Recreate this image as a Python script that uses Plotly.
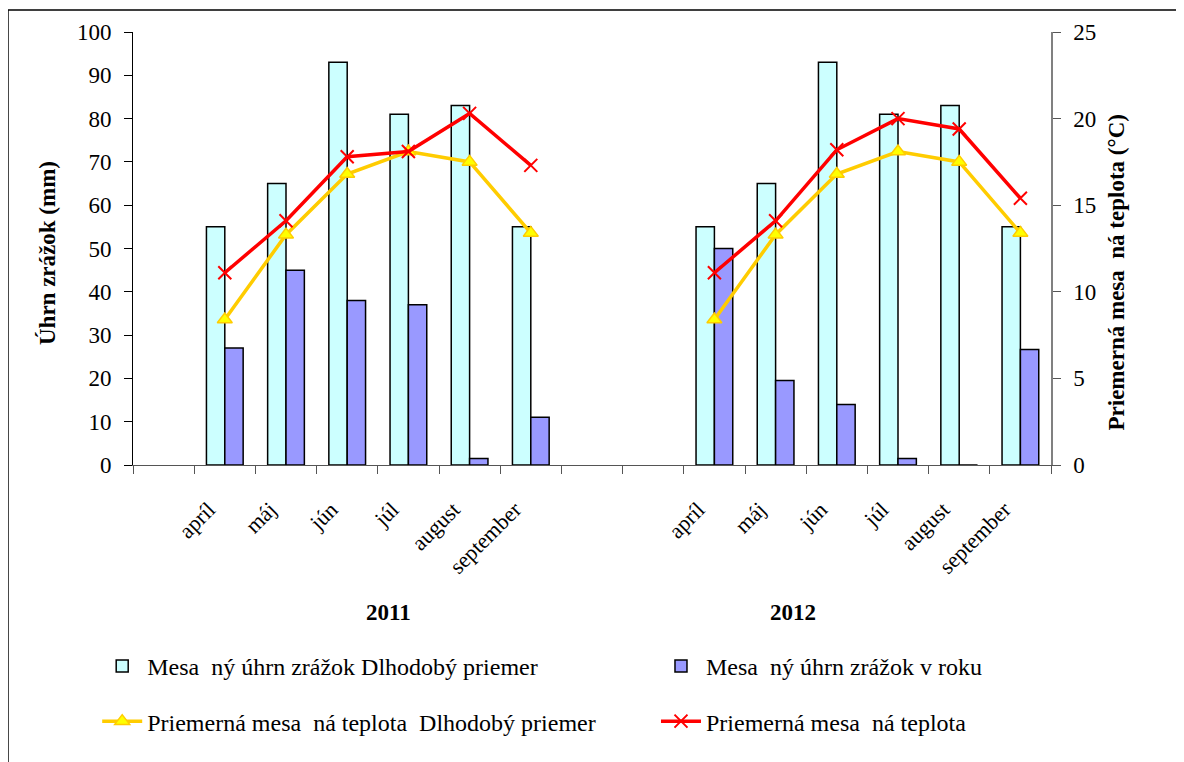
import plotly.graph_objects as go

# ---------------- data ----------------
months = ["apríl", "máj", "jún", "júl", "august", "september"]
years = ["2011", "2012"]

precip_longterm_2011 = [55, 65, 93, 81, 83, 55]
precip_longterm_2012 = [55, 65, 93, 81, 83, 55]
precip_year_2011 = [27, 45, 38, 37, 1.5, 11]
precip_year_2012 = [50, 19.5, 14, 1.5, 0, 26.7]

temp_longterm_2011 = [8.4, 13.3, 16.8, 18.1, 17.5, 13.4]
temp_longterm_2012 = [8.4, 13.3, 16.8, 18.1, 17.5, 13.4]
temp_year_2011 = [11.1, 14.1, 17.8, 18.1, 20.3, 17.3]
temp_year_2012 = [11.1, 14.1, 18.2, 20.0, 19.4, 15.4]

names = [
    "Mesa  ný úhrn zrážok Dlhodobý priemer",
    "Mesa  ný úhrn zrážok v roku",
    "Priemerná mesa  ná teplota  Dlhodobý priemer",
    "Priemerná mesa  ná teplota",
]
left_title = "Úhrn zrážok (mm)"
right_title = "Priemerná mesa  ná teplota (°C)"

# ---------------- category slots (with blank slots as in the original) ----------------
slots = ["_pad0"] + [f"2011 {m}" for m in months] + ["_pad1", "_pad2"] + [f"2012 {m}" for m in months]
slot_text = [""] + months + ["", ""] + months


def spread(a, b):
    return [None] + list(a) + [None, None] + list(b)


FONT = "Liberation Serif"
BLACK = "#000000"

fig = go.Figure()

fig.add_trace(go.Bar(
    x=slots, y=spread(precip_longterm_2011, precip_longterm_2012), name=names[0],
    marker=dict(color="#CCFFFF", line=dict(color=BLACK, width=1.5)),
    legend="legend", legendgroup="g0",
))
fig.add_trace(go.Bar(
    x=slots, y=spread(precip_year_2011, precip_year_2012), name=names[1],
    marker=dict(color="#9999FF", line=dict(color=BLACK, width=1.5)),
    legend="legend2", legendgroup="g1",
))
fig.add_trace(go.Scatter(
    x=slots, y=spread(temp_longterm_2011, temp_longterm_2012), name=names[2],
    yaxis="y2", mode="lines+markers", connectgaps=False,
    line=dict(color="#FFCC00", width=3.5),
    marker=dict(symbol="triangle-up", size=13, color="#FFFF00", line=dict(color="#FFCC00", width=1.5)),
    legend="legend", legendgroup="g2",
))
fig.add_trace(go.Scatter(
    x=slots, y=spread(temp_year_2011, temp_year_2012), name=names[3],
    yaxis="y2", mode="lines+markers", connectgaps=False,
    line=dict(color="#FF0000", width=3.5),
    marker=dict(symbol="x-thin", size=13, color="#FF0000", line=dict(color="#FF0000", width=2)),
    legend="legend2", legendgroup="g3",
))

n = len(slots)
boundaries = [i - 0.5 for i in range(n + 1)]
xr = [-0.5, n - 0.5]

fig.update_layout(
    width=1176, height=754,
    margin=dict(l=125, r=133, t=24, b=297),
    paper_bgcolor="white", plot_bgcolor="white",
    font=dict(family=FONT, color=BLACK, size=22),
    barmode="group", bargap=0.4, bargroupgap=0,
    showlegend=True,
    xaxis=dict(
        type="category", categoryorder="array", categoryarray=slots,
        tickmode="array", tickvals=slots, ticktext=slot_text,
        tickson="boundaries", ticks="outside", ticklen=8, tickcolor="#555555", tickwidth=1,
        tickangle=-45, tickfont=dict(size=22, family=FONT),
        ticklabelstandoff=22, ticklabelshift=-16,
        range=xr, showline=True, linecolor="#555555", linewidth=1,
        showgrid=False, zeroline=False,
    ),
    xaxis2=dict(
        overlaying="x", anchor="y", side="bottom", range=xr,
        tickmode="array", tickvals=boundaries, ticks="inside", ticklen=8,
        tickcolor="#555555", showticklabels=False, showline=False,
        showgrid=False, zeroline=False,
    ),
    yaxis=dict(
        range=[0, 100], tickmode="linear", tick0=0, dtick=10,
        ticks="outside", ticklen=8, tickcolor=BLACK,
        tickfont=dict(size=23, family=FONT), ticklabelstandoff=8,
        showline=True, linecolor=BLACK, linewidth=1,
        showgrid=False, zeroline=False,
    ),
    yaxis3=dict(
        overlaying="y", anchor="x", side="left", range=[0, 100],
        tickmode="linear", tick0=0, dtick=10, ticks="inside", ticklen=8,
        tickcolor=BLACK, showticklabels=False, showline=False,
        showgrid=False, zeroline=False,
    ),
    yaxis2=dict(
        overlaying="y", side="right", anchor="x", range=[0, 25],
        tickmode="linear", tick0=0, dtick=5,
        ticks="outside", ticklen=8, tickcolor="#555555",
        tickfont=dict(size=23, family=FONT), ticklabelstandoff=8,
        showline=True, linecolor="#808080", linewidth=1.5,
        showgrid=False, zeroline=False,
    ),
    yaxis4=dict(
        overlaying="y", anchor="x", side="right", range=[0, 25],
        tickmode="linear", tick0=0, dtick=5, ticks="inside", ticklen=8,
        tickcolor="#555555", showticklabels=False, showline=False,
        showgrid=False, zeroline=False,
    ),
    legend=dict(
        x=-0.039, xanchor="left", y=-0.413, yanchor="top",
        orientation="v", tracegroupgap=21, bgcolor="rgba(0,0,0,0)",
        font=dict(size=24, family=FONT), itemwidth=40,
    ),
    legend2=dict(
        x=0.5697, xanchor="left", y=-0.413, yanchor="top",
        orientation="v", tracegroupgap=21, bgcolor="rgba(0,0,0,0)",
        font=dict(size=24, family=FONT), itemwidth=40,
    ),
)

# axis titles
fig.add_annotation(
    x=-0.0924, y=0.49, xref="paper", yref="paper", text=f"<b>{left_title}</b>",
    textangle=-90, showarrow=False, font=dict(size=23, family=FONT),
    xanchor="center", yanchor="middle",
)
fig.add_annotation(
    x=1.0708, y=0.4446, xref="paper", yref="paper", text=f"<b>{right_title}</b>",
    textangle=-90, showarrow=False, font=dict(size=23, family=FONT),
    xanchor="center", yanchor="middle",
)

# group (year) labels under the month labels
year_positions = [3.67, 10.28]
for yr, xp in zip(years, year_positions):
    fig.add_annotation(
        x=xp, y=-0.3395, xref="x", yref="paper", text=f"<b>{yr}</b>",
        showarrow=False, font=dict(size=23, family=FONT), xanchor="center", yanchor="middle",
    )

# outer chart border
fig.add_shape(
    type="rect", xref="paper", yref="paper",
    x0=-0.1362, x1=1.16, y0=-0.75, y1=1.0508,
    line=dict(color=BLACK, width=1.5), fillcolor="rgba(0,0,0,0)", layer="below",
)

fig.write_html("out.html")
